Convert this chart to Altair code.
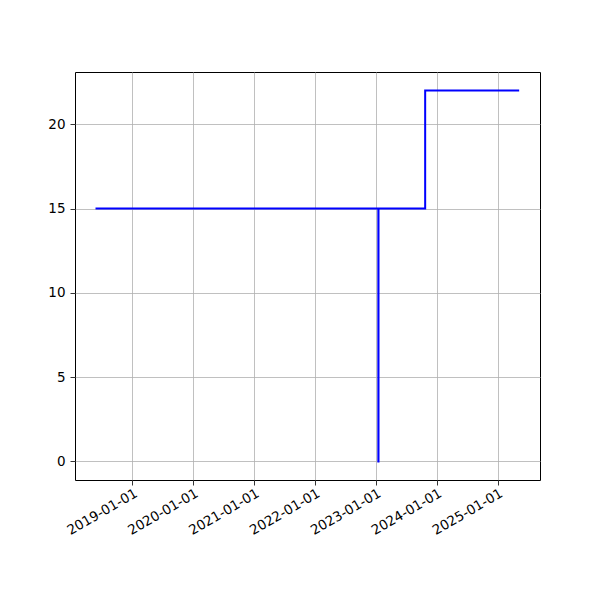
import altair as alt
import pandas as pd

dates = ["2018-05-25", "2023-01-16", "2023-01-17", "2023-10-24", "2025-05-10"]
values = [15, 0, 15, 22, 22]
tick_years = [2019, 2020, 2021, 2022, 2023, 2024, 2025]
y_ticks = [0, 5, 10, 15, 20]

df = pd.DataFrame({"date": dates, "value": values})

x_enc = alt.X(
    "date:T",
    title=None,
    scale=alt.Scale(
        type="utc",
        domain=[alt.DateTime(year=2018, month=1, date=22, utc=True),
                alt.DateTime(year=2025, month=9, date=12, utc=True)],
        nice=False,
    ),
    axis=alt.Axis(
        values=[alt.DateTime(year=y, month=1, date=1, utc=True) for y in tick_years],
        labelExpr="utcFormat(datum.value, '%Y-%m-%d')",
        labelAngle=-30,
        labelAlign="right",
        labelBaseline="top",
        labelPadding=1,
        grid=True,
        gridColor="#b0b0b0",
        gridWidth=0.8,
        tickColor="black",
        tickSize=5,
        tickWidth=0.8,
        domain=False,
        labelFont="DejaVu Sans",
        labelFontSize=13.5,
        labelColor="black",
        labelOverlap=False,
    ),
)

y_enc = alt.Y(
    "value:Q",
    title=None,
    scale=alt.Scale(domain=[-1.1, 23.1], nice=False, zero=False),
    axis=alt.Axis(
        values=y_ticks,
        grid=True,
        gridColor="#b0b0b0",
        gridWidth=0.8,
        tickColor="black",
        tickSize=5,
        tickWidth=0.8,
        domain=False,
        labelFont="DejaVu Sans",
        labelFontSize=13.5,
        labelColor="black",
        labelPadding=5,
    ),
)

chart = (
    alt.Chart(df)
    .mark_line(color="blue", strokeWidth=2, interpolate="step-after")
    .encode(x=x_enc, y=y_enc)
    .properties(
        width=465,
        height=408,
        background="white",
        autosize=alt.AutoSizeParams(type="none"),
        padding={"left": 67, "top": 64, "right": 45, "bottom": 100},
    )
    .configure_view(stroke="black", strokeWidth=1)
)

chart.save("out.html", embed_options={"renderer": "svg", "actions": False})
